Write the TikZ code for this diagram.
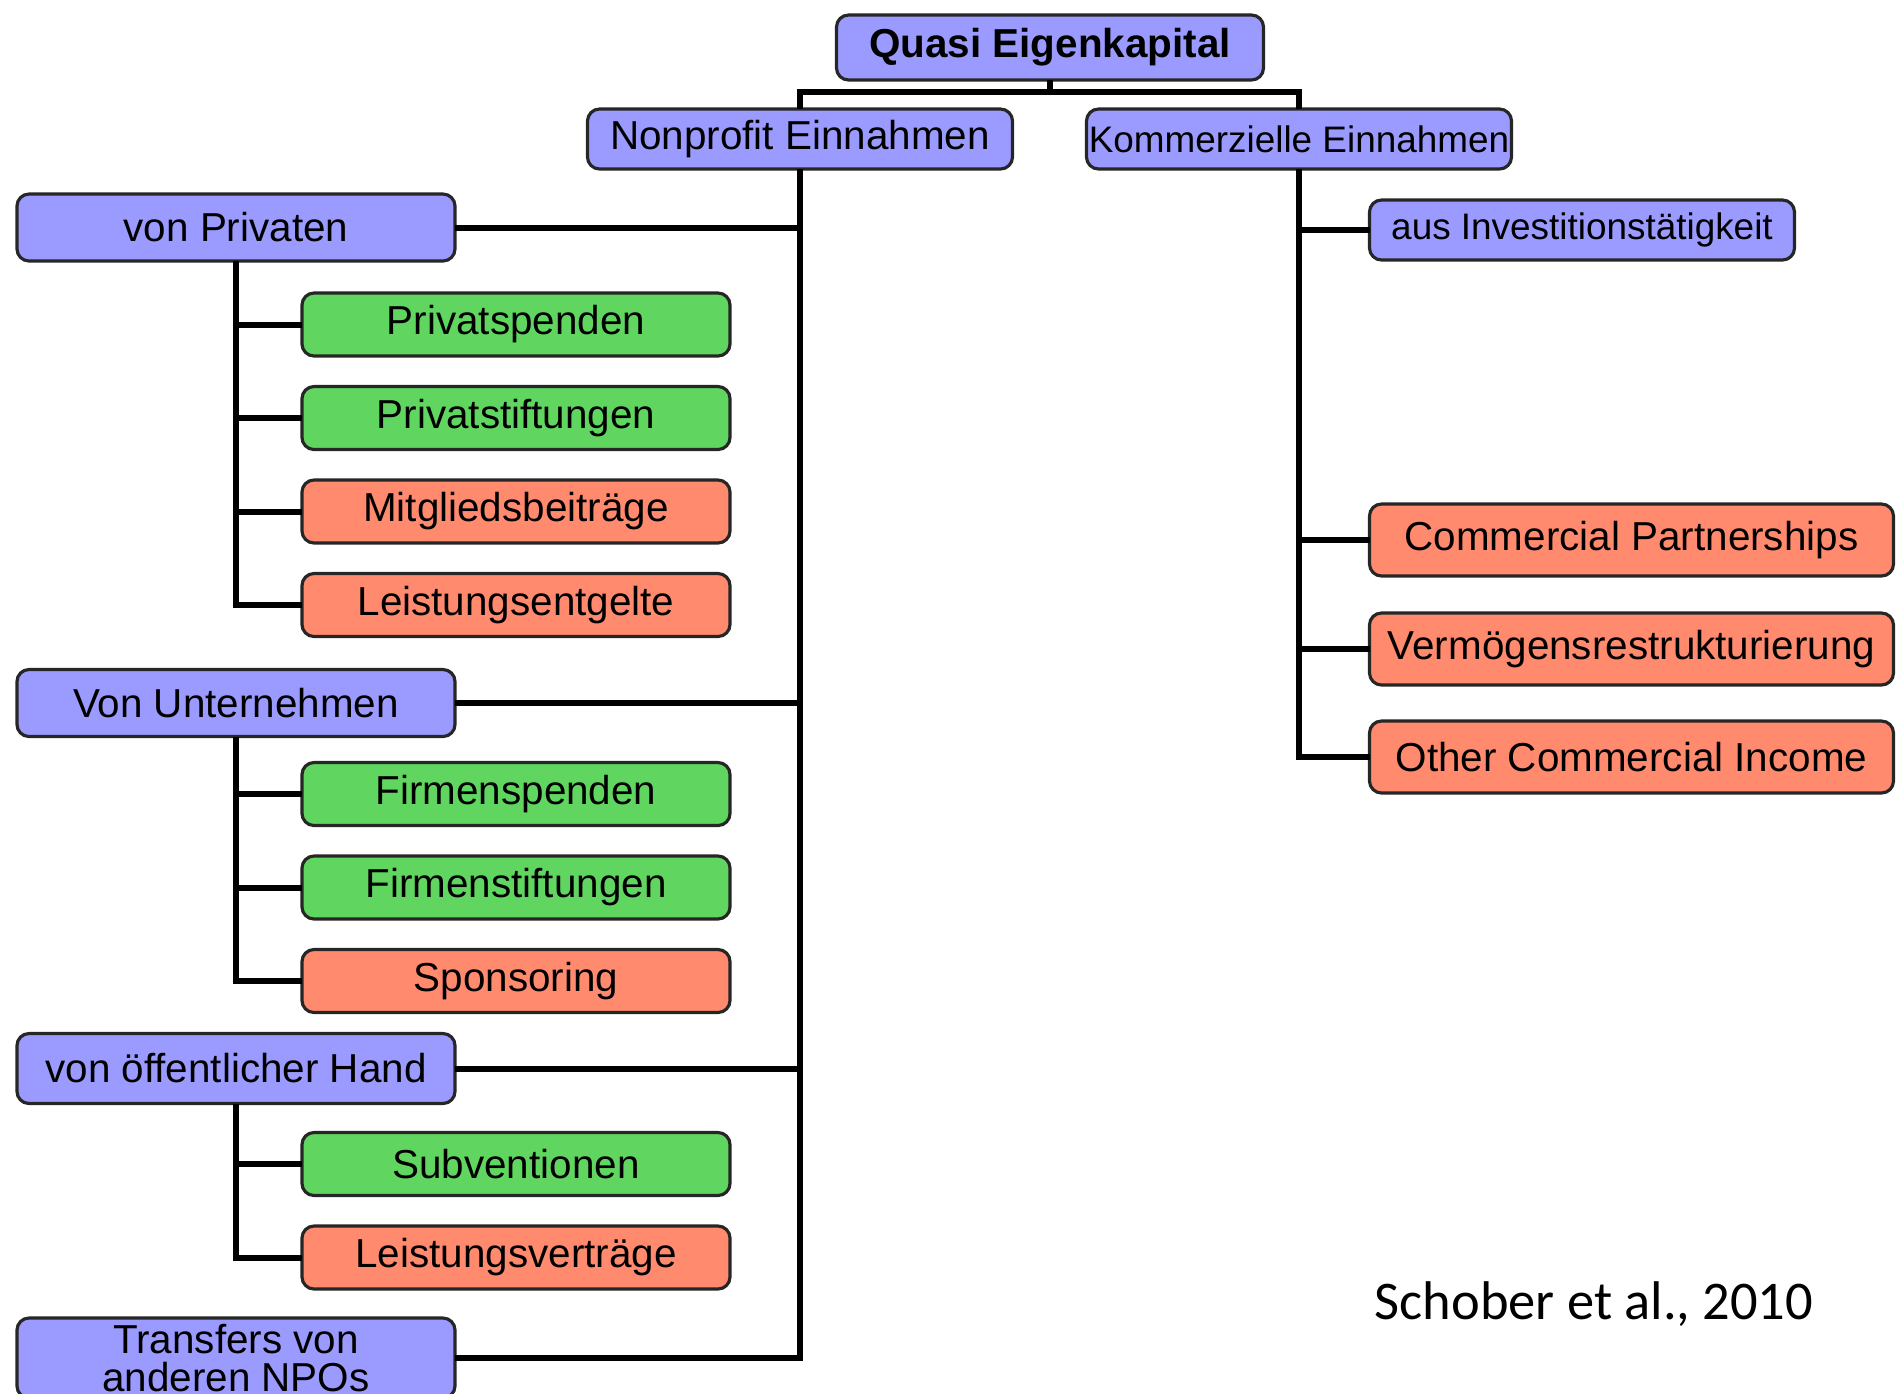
\documentclass[tikz,border=0pt]{standalone}
\usepackage{fontspec}
\setmainfont{Liberation Sans}
\newfontfamily\srcfont{Carlito}
\usetikzlibrary{positioning}
\definecolor{catblue}{RGB}{155,155,255}
\definecolor{dongreen}{RGB}{96,214,96}
\definecolor{feered}{RGB}{255,138,110}

\begin{document}
\begin{tikzpicture}[
    node distance=0.305cm,
    box/.style={rectangle, draw=black!85, line width=0.9pt, rounded corners=0.12cm, align=center, inner sep=0pt, outer sep=0pt, font=\fontsize{11.5}{11}\selectfont},
    catbox/.style={box, fill=catblue, minimum width=4.38cm, minimum height=0.67cm},
    headbox/.style={box, fill=catblue, minimum width=4.25cm, minimum height=0.6cm},
    donbox/.style={box, fill=dongreen, minimum width=4.28cm, minimum height=0.63cm},
    feebox/.style={box, fill=feered, minimum width=4.28cm, minimum height=0.63cm},
    combox/.style={box, fill=feered, minimum width=5.24cm, minimum height=0.72cm},
    link/.style={line width=1.7pt}
]
    \useasboundingbox (0,0) rectangle (18.96,-13.93);

    % Root
    \node[box, fill=catblue, minimum width=4.27cm, minimum height=0.65cm, font=\fontsize{11.5}{13}\selectfont\bfseries] (quasi) at (10.50,-0.475) {Quasi Eigenkapital};

    % Revenue groups
    \node[headbox, below=0.29cm of quasi, xshift=-2.5cm] (nonprofit) {Nonprofit Einnahmen};
    \node[headbox, right=0.74cm of nonprofit, font=\fontsize{10.5}{12}\selectfont] (kommerz) {Kommerzielle Einnahmen};

    % Nonprofit side
    \node[catbox] (privaten) at (2.36,-2.275) {von Privaten};
    \node[donbox, below=0.32cm of privaten, xshift=2.8cm] (pspenden) {Privatspenden};
    \node[donbox, below=of pspenden] (pstift) {Privatstiftungen};
    \node[feebox, below=of pstift] (beitrag) {Mitgliedsbeiträge};
    \node[feebox, below=of beitrag] (pentgelt) {Leistungsentgelte};

    \node[catbox, below=0.33cm of pentgelt, xshift=-2.8cm] (unternehmen) {Von Unternehmen};
    \node[donbox, below=0.26cm of unternehmen, xshift=2.8cm] (fspenden) {Firmenspenden};
    \node[donbox, below=of fspenden] (fstift) {Firmenstiftungen};
    \node[feebox, below=of fstift] (sponsor) {Sponsoring};

    \node[catbox, minimum height=0.7cm, below=0.21cm of sponsor, xshift=-2.8cm] (oeffentlich) {von öffentlicher Hand};
    \node[donbox, below=0.29cm of oeffentlich, xshift=2.8cm] (subvent) {Subventionen};
    \node[feebox, below=of subvent] (lvertrag) {Leistungsverträge};

    \node[catbox, minimum height=0.8cm, below=0.29cm of lvertrag, xshift=-2.8cm] (transfers) {Transfers von\\anderen NPOs};

    % Commercial side
    \node[headbox, font=\fontsize{10.5}{12}\selectfont, below=0.31cm of kommerz, xshift=2.83cm] (invest) {aus Investitionstätigkeit};
    \node[combox, below=2.44cm of invest.south west, anchor=north west] (partner) {Commercial Partnerships};
    \node[combox, below=0.37cm of partner] (vermoegen) {Vermögensrestrukturierung};
    \node[combox, below=0.36cm of vermoegen] (other) {Other Commercial Income};

    % Source
    \node[font=\srcfont\fontsize{15.5}{18}\selectfont] (source) at (15.94,-13.04) {Schober et al., 2010};

    % Connectors
    \draw[link] (quasi.south) -- ++(0,-0.12) coordinate (split) -| (nonprofit.north);
    \draw[link] (split) -| (kommerz.north);

    \draw[link] (nonprofit.south) |- (privaten);
    \draw[link] (nonprofit.south) |- (unternehmen);
    \draw[link] (nonprofit.south) |- (oeffentlich);
    \draw[link] (nonprofit.south) |- (transfers);

    \draw[link] (privaten.south) |- (pspenden);
    \draw[link] (privaten.south) |- (pstift);
    \draw[link] (privaten.south) |- (beitrag);
    \draw[link] (privaten.south) |- (pentgelt);

    \draw[link] (unternehmen.south) |- (fspenden);
    \draw[link] (unternehmen.south) |- (fstift);
    \draw[link] (unternehmen.south) |- (sponsor);

    \draw[link] (oeffentlich.south) |- (subvent);
    \draw[link] (oeffentlich.south) |- (lvertrag);

    \draw[link] (kommerz.south) |- (invest);
    \draw[link] (kommerz.south) |- (partner);
    \draw[link] (kommerz.south) |- (vermoegen);
    \draw[link] (kommerz.south) |- (other);

\end{tikzpicture}
\end{document}
